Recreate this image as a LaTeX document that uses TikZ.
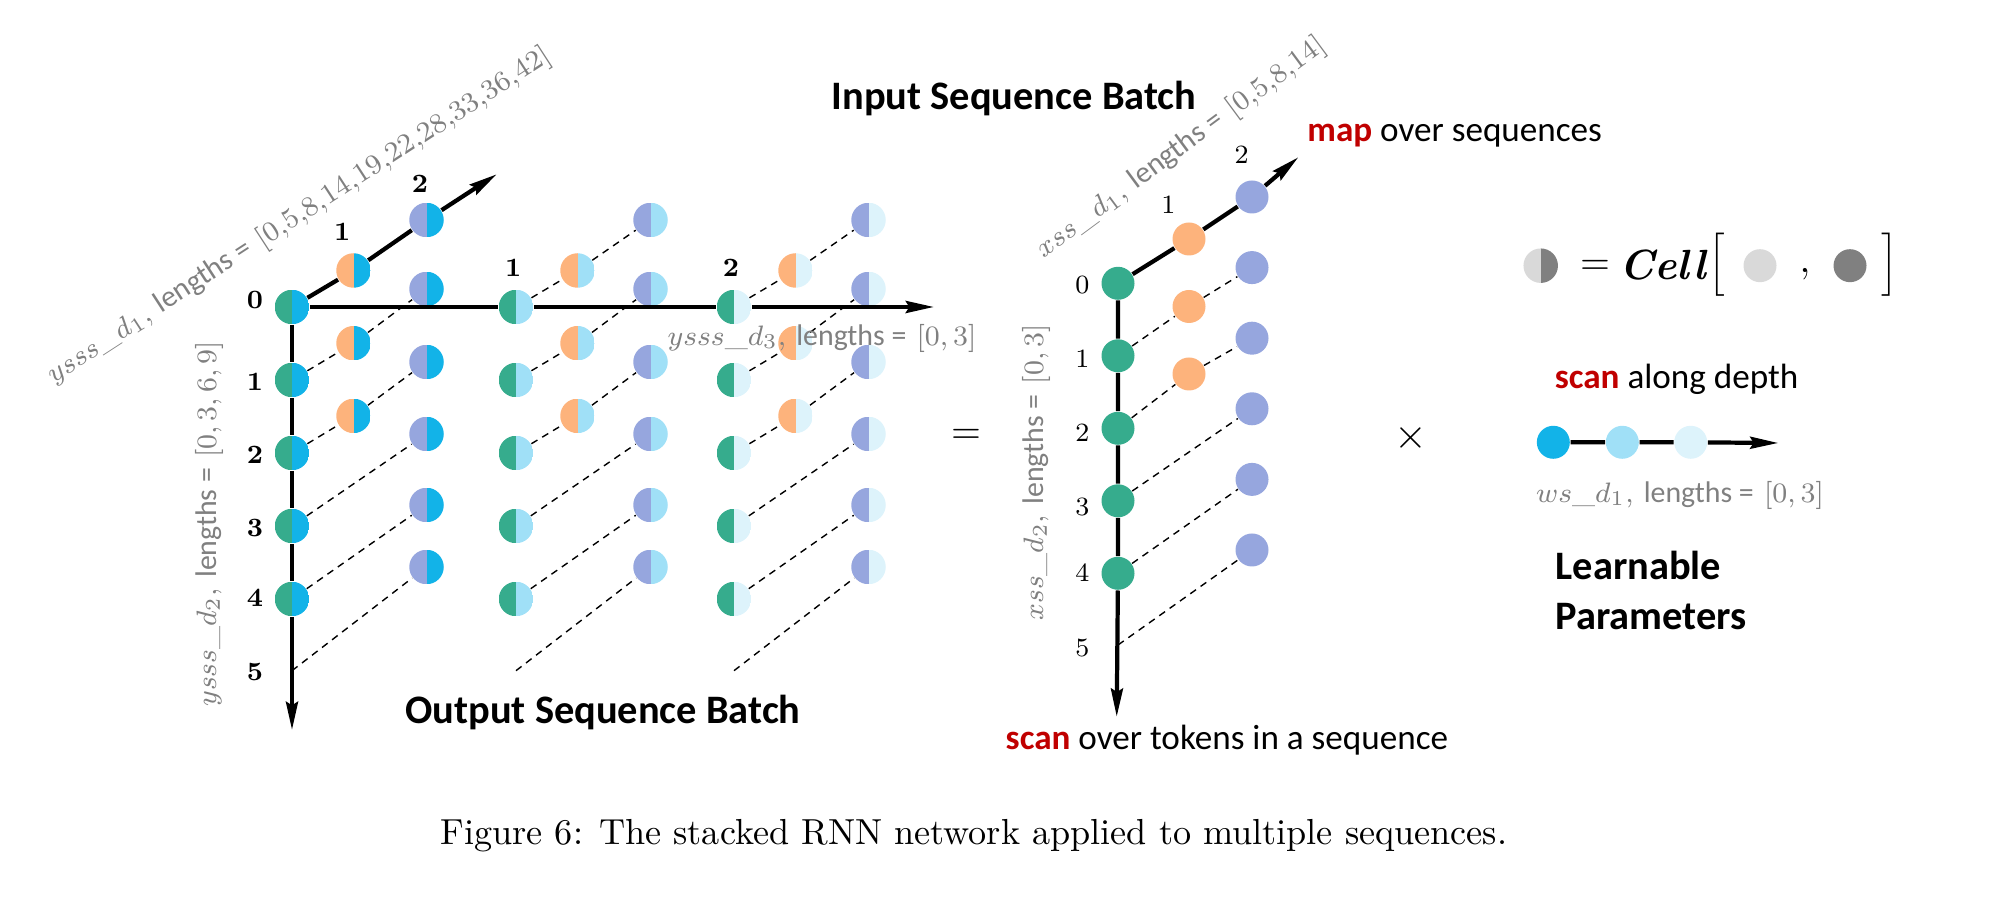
\documentclass[tikz,border=0pt]{standalone}
\usepackage{fontspec}
\newfontfamily\cali{Carlito}
\usetikzlibrary{arrows.meta}

\definecolor{seqgreen}{RGB}{54,172,141}
\definecolor{seqorange}{RGB}{253,179,124}
\definecolor{seqpurple}{RGB}{150,166,222}
\definecolor{wdeep}{RGB}{18,179,232}
\definecolor{wmid}{RGB}{160,224,247}
\definecolor{wpale}{RGB}{221,243,251}
\definecolor{dimgray}{RGB}{128,128,128}
\definecolor{cellLight}{RGB}{217,217,217}
\definecolor{cellDark}{RGB}{128,128,128}
\definecolor{scanred}{RGB}{192,0,0}

\begin{document}
\begin{tikzpicture}
[
Half/.style 2 args={circle, inner sep=0pt, minimum size=3.45mm,
  path picture={
    \fill[#1] (path picture bounding box.south west) rectangle (path picture bounding box.north);
    \fill[#2] (path picture bounding box.south) rectangle (path picture bounding box.north east);}},
Dot/.style={circle, inner sep=0pt, minimum size=3.3mm, fill=#1},
Axis/.style={very thick, -{Stealth[length=8pt,width=3.4pt,inset=1pt]}},
Solid/.style={very thick},
Link/.style={thin, dash pattern=on 2pt off 1.6pt},
Tick/.style={font=\fontsize{7.5}{9}\selectfont\bfseries},
InTick/.style={font=\fontsize{7.5}{9}\selectfont},
Dim/.style={text=dimgray, font=\fontsize{8.5}{10}\selectfont},
Title/.style={font=\cali\bfseries\fontsize{11.5}{13}\selectfont},
Note/.style={font=\cali\fontsize{10}{12}\selectfont}
]

\useasboundingbox (0,0) rectangle (19.98,9.07);

% output batch
\foreach \col/\gx/\wc in {0/2.92/wdeep, 1/5.16/wmid, 2/7.34/wpale}
{
  \foreach \i in {0,...,4}
    \node[Half={seqgreen}{\wc}] (g\col\i) at (\gx, 6.00-0.73*\i) {};
  \foreach \i in {0,1,2}
    \node[Half={seqorange}{\wc}] (o\col\i) at (\gx+0.615, 6.365-0.727*\i) {};
  \foreach \i/\py in {0/6.87, 1/6.18, 2/5.45, 3/4.73, 4/4.02, 5/3.40}
    \node[Half={seqpurple}{\wc}] (p\col\i) at (\gx+1.345, \py) {};
  \coordinate (e\col) at (\gx, 2.363);
}
\coordinate (vTip) at (2.92,1.77);
\coordinate (hTip) at (9.34,6.00);
\coordinate (dTip) at (4.967,7.327);

\draw[Axis] (g00) -- (g01) -- (g02) -- (g03) -- (g04) -- (vTip);
\draw[Solid] (g00) -- (g10) -- (g20);
\draw[Axis] (g20) -- (hTip);
\draw[Axis] (g00) -- (o00) -- (p00) -- (dTip);

\foreach \col in {0,1,2}
{
  \foreach \i in {1,2}
    \draw[Link] (g\col\i) -- (o\col\i) -- (p\col\i);
  \foreach \i in {3,4}
    \draw[Link] (g\col\i) -- (p\col\i);
  \draw[Link] (e\col) -- (p\col5);
}
\draw[Link] (g10) -- (o10) -- (p10);
\draw[Link] (g20) -- (o20) -- (p20);

\foreach \i/\ly in {0/6.07, 1/5.25, 2/4.52, 3/3.79, 4/3.09, 5/2.35}
  \node[Tick] (t\i) at (2.55,\ly) {\i};
\node[Tick] (td1) at (3.423,6.753) {1};
\node[Tick] (td2) at (4.20,7.227) {2};
\node[Tick] (th1) at (5.133,6.387) {1};
\node[Tick] (th2) at (7.31,6.387) {2};

\node[Dim, rotate=33] (yd1) at (2.99,6.91) {$ysss\_d_1,$ {\cali lengths =} $[0{,}5{,}8{,}14{,}19{,}22{,}28{,}33{,}36{,}42]$};
\node[Dim, rotate=90] (yd2) at (2.09,3.83) {$ysss\_d_2,$ {\cali lengths =} $[0,3,6,9]$};
\node[Dim] (yd3) at (8.22,5.69) {$ysss\_d_3,$ {\cali lengths =} $[0,3]$};

\node[Title, anchor=base] (outTitle) at (6.03,1.837) {Output Sequence Batch};

% input batch
\foreach \i in {0,...,4}
  \node[Dot=seqgreen] (xg\i) at (11.18, 6.237-0.725*\i) {};
\foreach \i in {0,1,2}
  \node[Dot=seqorange] (xo\i) at (11.89, 6.68-0.675*\i) {};
\foreach \i in {0,...,5}
  \node[Dot=seqpurple] (xp\i) at (12.52, 7.10-0.706*\i) {};
\coordinate (xe) at (11.18,2.62);
\coordinate (xvTip) at (11.167,1.903);
\coordinate (xdTip) at (12.983,7.497);

\draw[Axis] (xg0) -- (xg1) -- (xg2) -- (xg3) -- (xg4) -- (xvTip);
\draw[Axis] (xg0) -- (xo0) -- (xp0) -- (xdTip);
\foreach \i in {1,2}
  \draw[Link] (xg\i) -- (xo\i) -- (xp\i);
\foreach \i in {3,4}
  \draw[Link] (xg\i) -- (xp\i);
\draw[Link] (xe) -- (xp5);

\foreach \i/\ly in {0/6.22, 1/5.487, 2/4.747, 3/4.003, 4/3.347, 5/2.587}
  \node[InTick] (xt\i) at (10.823,\ly) {\i};
\node[InTick] (xtd1) at (11.683,7.02) {1};
\node[InTick] (xtd2) at (12.417,7.52) {2};

\node[Dim, rotate=36.5] (xd1) at (11.81,7.59) {$xss\_d_1,$ {\cali lengths =} $[0{,}5{,}8{,}14]$};
\node[Dim, rotate=90] (xd2) at (10.36,4.345) {$xss\_d_2,$ {\cali lengths =} $[0,3]$};

\node[Title, anchor=base] (inTitle) at (10.14,7.97) {Input Sequence Batch};
\node[Note, anchor=base west] (mapNote) at (12.95,7.653) {\textcolor{scanred}{\bfseries map} over sequences};
\node[Note, anchor=base west] (scanNote) at (9.933,1.57) {\textcolor{scanred}{\bfseries scan} over tokens in a sequence};

\node (eq) at (9.66,4.71) {\fontsize{11}{12}\selectfont$=$};
\node (times) at (14.11,4.69) {\fontsize{13}{14}\selectfont$\times$};

% learnable parameters
\node[Half={cellLight}{cellDark}] (cellIcon) at (15.407,6.413) {};
\node (cellEq) at (15.95,6.40) {\fontsize{11}{12}\selectfont$=$};
\node[anchor=base] (cellName) at (16.625,6.27) {\fontsize{12}{14}\selectfont\bfseries\itshape Cell};
\node (cellOpen) at (17.167,6.42) {\fontsize{11}{12}\selectfont$\Big[$};
\node[Dot=cellLight] (cellIn) at (17.60,6.413) {};
\node (cellComma) at (18.05,6.33) {\fontsize{11}{12}\selectfont$,$};
\node[Dot=cellDark] (cellOut) at (18.50,6.413) {};
\node (cellClose) at (18.90,6.42) {\fontsize{11}{12}\selectfont$\Big]$};

\node[Note, anchor=base west] (depthNote) at (15.424,5.187) {\textcolor{scanred}{\bfseries scan} along depth};
\node[Dot=wdeep] (w0) at (15.533,4.647) {};
\node[Dot=wmid] (w1) at (16.223,4.647) {};
\node[Dot=wpale] (w2) at (16.907,4.647) {};
\coordinate (wTip) at (17.783,4.64);
\draw[Axis] (w0) -- (w1) -- (w2) -- (wTip);
\node[Dim] (wd1) at (16.80,4.12) {$ws\_d_1,$ {\cali lengths =} $[0,3]$};

\node[Title, anchor=base west] (learn) at (15.433,3.27) {Learnable};
\node[Title, anchor=base west] (param) at (15.433,2.77) {Parameters};

\node[anchor=base] (caption) at (9.74,0.62) {\fontsize{10.3}{12}\selectfont Figure 6: The stacked RNN network applied to multiple sequences.};
\end{tikzpicture}
\end{document}
